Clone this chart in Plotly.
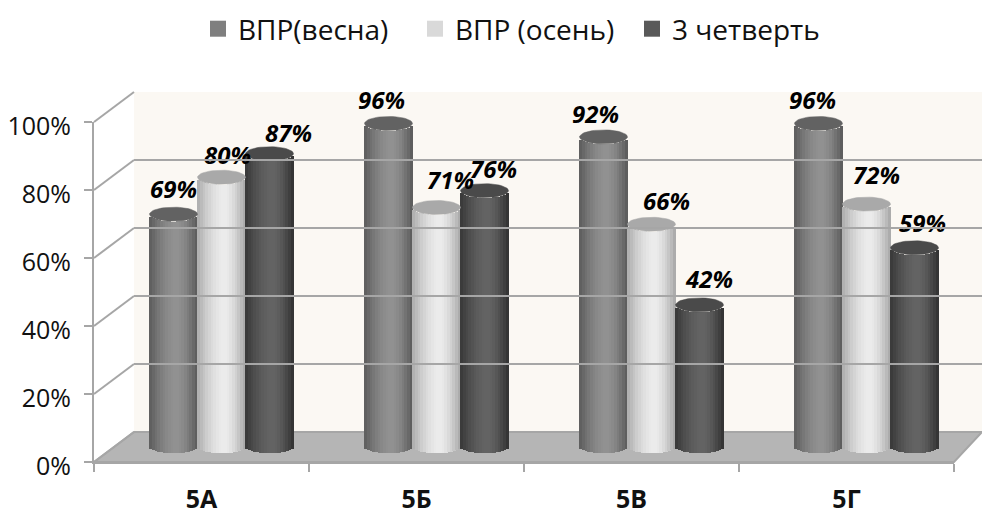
import numpy as np
import plotly.graph_objects as go

categories = ["5А", "5Б", "5В", "5Г"]
series_names = ["ВПР(весна)", "ВПР (осень)", "3 четверть"]
vesna = [69, 96, 92, 96]
osen = [80, 71, 66, 72]
chetvert = [87, 76, 42, 59]
y_ticks = [0, 20, 40, 60, 80, 100]
y_labels = ["0%", "20%", "40%", "60%", "80%", "100%"]

series_values = [vesna, osen, chetvert]

W, H = 982, 516
FONT = "Open Sans"
GRID = "#a6a6a6"

# pixel geometry of the pseudo-3D frame
FX0, FX1, FY0, FY100 = 94, 954, 462, 122       # front plane
DX, DY = 40, 30                                # depth offset of the back wall
CYL_DX = 20                                    # cylinder plane offset
CYL_Y0, PX_PER_UNIT = 446, 3.36
PX_PER_CAT = (FX1 - FX0) / 4
CYL_W = 48
ELL_H = 7
N = 18

# colours: edge left, middle, edge right, top ellipse, legend
palette = [
    ((92, 92, 92), (146, 146, 146), (88, 88, 88), "#626262", "#7f7f7f"),
    ((172, 172, 172), (236, 236, 236), (165, 165, 165), "#a9a9a9", "#d9d9d9"),
    ((56, 56, 56), (100, 100, 100), (48, 48, 48), "#4a4a4a", "#595959"),
]
# label nudges in pixels: (horizontal from the cylinder axis, above the top centre)
label_dx = [[0, -7, -8, -6], [6, 14, 15, 10], [19, 9, 10, 8]]
label_dy = [[22, 20, 20, 20], [19, 24, 20, 26], [18, 19, 23, 22]]


def py(p):
    return 1 - p / H


def px(p):
    return p / W


fig = go.Figure()

# invisible carrier for the category axis
fig.add_trace(go.Scatter(x=categories, y=[None] * 4, mode="markers", showlegend=False,
                         hoverinfo="skip", xaxis="x", yaxis="y"))
# carrier for the back wall axes
fig.add_trace(go.Scatter(x=[None], y=[None], mode="markers", showlegend=False,
                         hoverinfo="skip", xaxis="x3", yaxis="y3"))

positions = np.arange(len(categories))
unit_x = 1 / PX_PER_CAT
unit_y = 1 / PX_PER_UNIT
strip_t = (np.arange(N) + 0.5) / N * 2 - 1

for si, (vals, name, pal) in enumerate(zip(series_values, series_names, palette)):
    center = positions + (si - 1) * CYL_W * unit_x
    for t in strip_t:
        k = 1 - abs((t - 0.12) / (1.12 if t < 0.12 else 0.88)) ** 1.7
        edge = pal[0] if t < 0.12 else pal[2]
        c = [int(e + (m - e) * k) for e, m in zip(edge, pal[1])]
        base = -ELL_H * unit_y * np.sqrt(1 - t ** 2)
        fig.add_trace(go.Bar(
            x=center + t * CYL_W / 2 * unit_x, y=vals, base=[base] * 4,
            width=CYL_W / N * unit_x * 1.25,
            marker=dict(color=f"rgb({c[0]},{c[1]},{c[2]})", line_width=0),
            showlegend=False, hoverinfo="skip", xaxis="x2", yaxis="y2"))
    # top caps
    a = np.linspace(0, 2 * np.pi, 49)
    ex, ey = [], []
    for cx, v in zip(center, vals):
        ex += list(cx + np.cos(a) * CYL_W / 2 * unit_x) + [None]
        ey += list(v + np.sin(a) * ELL_H * unit_y) + [None]
    fig.add_trace(go.Scatter(x=ex, y=ey, mode="lines", fill="toself", fillcolor=pal[3],
                             line=dict(color=pal[3], width=0.5), showlegend=False,
                             hoverinfo="skip", xaxis="x2", yaxis="y2"))

# data labels
for si, vals in enumerate(series_values):
    center = positions + (si - 1) * CYL_W * unit_x
    fig.add_trace(go.Scatter(
        x=center + np.array(label_dx[si]) * unit_x,
        y=np.array(vals) + np.array(label_dy[si]) * unit_y,
        mode="text", text=[f"{v}%" for v in vals], textposition="middle center",
        textfont=dict(family=FONT, size=24, color="#000000", weight="bold", style="italic"),
        cliponaxis=False, showlegend=False, hoverinfo="skip", xaxis="x2", yaxis="y2"))

# legend entries
for name, pal in zip(series_names, palette):
    fig.add_trace(go.Scatter(x=[None], y=[None], mode="markers", name=name,
                             marker=dict(symbol="square", size=17, color=pal[4]),
                             xaxis="x", yaxis="y"))

shapes = [
    # back wall
    dict(type="rect", xref="paper", yref="paper", x0=px(FX0 + DX), x1=1,
         y0=py(FY0 - DY), y1=py(FY100 - DY), fillcolor="#fbf8f3", line_width=0, layer="below"),
    # floor
    dict(type="path", xref="paper", yref="paper",
         path=f"M {px(FX0)} {py(FY0)} L {px(FX0 + DX)} {py(FY0 - DY)} L 1 {py(FY0 - DY)} "
              f"L {px(FX1)} {py(FY0)} Z",
         fillcolor="#b5b5b5", line=dict(color=GRID, width=2), layer="below"),
]
# side wall diagonals
for v in y_ticks:
    y = FY0 - (FY0 - FY100) * v / 100
    shapes.append(dict(type="line", xref="paper", yref="paper", x0=px(FX0), x1=px(FX0 + DX),
                       y0=py(y), y1=py(y - DY), line=dict(color=GRID, width=2), layer="below"))

fig.update_layout(
    width=W, height=H, margin=dict(l=0, r=0, t=0, b=0, autoexpand=False),
    paper_bgcolor="white", plot_bgcolor="rgba(0,0,0,0)",
    barmode="overlay", bargap=0, shapes=shapes,
    font=dict(family=FONT, color="#111111"),
    legend=dict(orientation="h", x=px(198), xanchor="left", y=1 - 29 / H, yanchor="middle",
                entrywidth=172, entrywidthmode="pixels",
                font=dict(family=FONT, size=28, color="#111111"), itemclick=False,
                bgcolor="rgba(0,0,0,0)"),
    xaxis=dict(domain=[px(FX0), px(FX1)], type="category", categoryorder="array",
               categoryarray=categories, range=[-0.5, 3.5], tickson="boundaries",
               ticks="outside", ticklen=8, tickwidth=2, tickcolor=GRID, showline=True,
               linecolor=GRID, linewidth=2, showgrid=False, anchor="y", ticklabelstandoff=14,
               tickfont=dict(family=FONT, size=25, weight="bold", color="#111111")),
    yaxis=dict(domain=[py(FY0), py(FY100)], range=[0, 100], tickvals=y_ticks, ticktext=y_labels,
               ticks="outside", ticklen=8, tickwidth=2, tickcolor=GRID, showline=True,
               linecolor=GRID, linewidth=2, showgrid=False, zeroline=False, anchor="x",
               ticklabelstandoff=8, ticklabelshift=4,
               tickfont=dict(family=FONT, size=25, color="#111111")),
    xaxis2=dict(domain=[px(FX0 + CYL_DX), px(FX1 + CYL_DX)], range=[-0.5, 3.5], visible=False,
                anchor="y2"),
    yaxis2=dict(domain=[py(CYL_Y0 + 5 * PX_PER_UNIT), py(CYL_Y0 - 115 * PX_PER_UNIT)],
                range=[-5, 115], visible=False, anchor="x2"),
    xaxis3=dict(domain=[px(FX0 + DX), 1], range=[0, 1], visible=False, anchor="y3"),
    yaxis3=dict(domain=[py(FY0 - DY), py(FY100 - DY)], range=[0, 100], tickvals=y_ticks,
                showgrid=True, gridcolor=GRID, gridwidth=2, zeroline=False,
                showticklabels=False, ticks="", showline=False, anchor="x3"),
)

fig.write_html("out.html", config=dict(displayModeBar=False),
               post_script="document.body.style.margin='0';document.body.style.overflow='hidden';")
